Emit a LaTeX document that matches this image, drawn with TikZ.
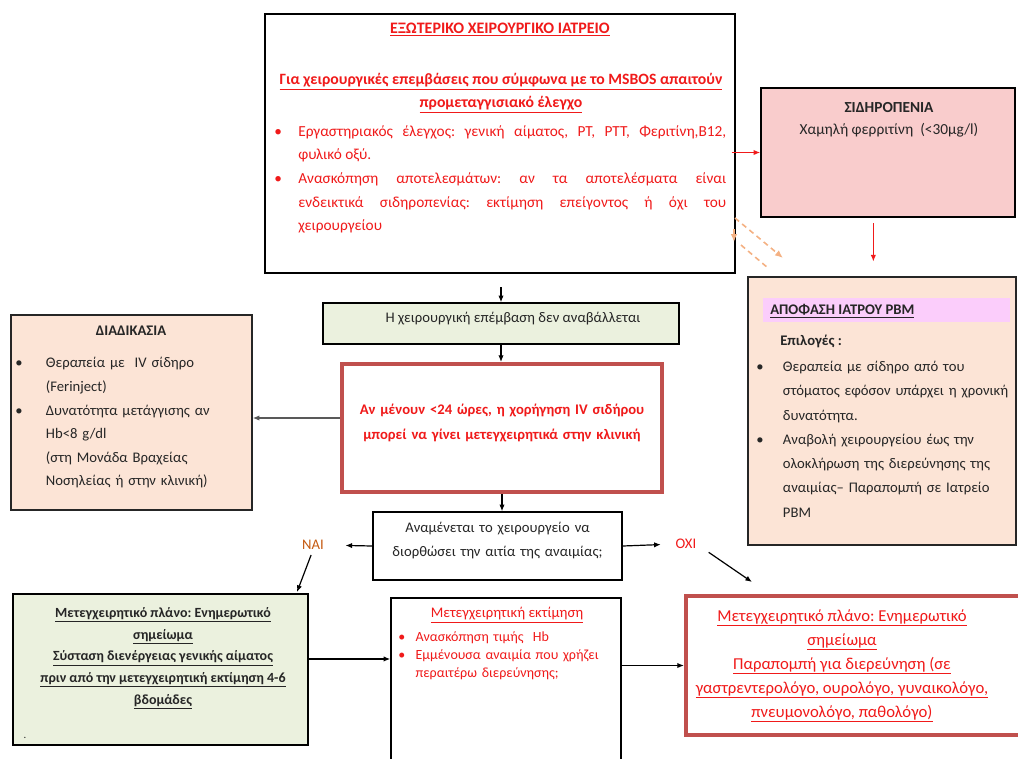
\documentclass[tikz,border=0pt]{standalone}
\usepackage{fontspec}
\setmainfont{Carlito}
\usepackage{enumitem}
\usetikzlibrary{arrows.meta,positioning,fit}
\definecolor{ink}{HTML}{262626}
\definecolor{alert}{HTML}{F01A1A}
\definecolor{brick}{HTML}{C0504D}
\definecolor{peach}{HTML}{FCE4D6}
\definecolor{rose}{HTML}{F9CCCC}
\definecolor{sage}{HTML}{EBF1DE}
\definecolor{lilac}{HTML}{FBCDFB}
\definecolor{apricot}{HTML}{F4B183}
\definecolor{rust}{HTML}{C55A11}
\hyphenpenalty=10000
\exhyphenpenalty=10000
\tolerance=10000
\frenchspacing
\setlist[itemize]{nosep,label=\textbullet,labelindent=0pt,labelwidth=6pt,labelsep=*,align=left}
\newcommand{\undl}[1]{\underline{#1}}
\tikzset{
  flow/.style={-{Latex[length=5pt,width=4pt]},line width=0.9pt,draw=black},
  redflow/.style={flow,draw=alert},
  hint/.style={-{Latex[length=6pt,width=5pt]},line width=1.2pt,dash pattern=on 4pt off 3pt,draw=apricot},
  panel/.style={draw=black,line width=1.1pt,inner sep=0pt},
  warn/.style={draw=brick,line width=3pt,fill=white,inner sep=0pt},
  txt/.style={inner sep=0pt,text=ink,font=\fontsize{11}{18}\selectfont},
  head/.style={txt,font=\bfseries\fontsize{11}{18}\selectfont},
}
\begin{document}
\begin{tikzpicture}[x=0.75pt,y=-0.75pt]
  \useasboundingbox (0,0) rectangle (1018,758);
  % boxes
  \node[panel,fill=white,fit={(265,14) (735,273)}] (clinic) {};
  \node[panel,fill=rose,fit={(761,88) (1015,217)}] (iron) {};
  \node[panel,draw=ink,fill=peach,fit={(748,277) (1016,545)}] (pbm) {};
  \node[fill=lilac,inner sep=0pt,fit={(763,298) (1010,322)}] (pbm-bar) {};
  \node[panel,draw=ink,fill=peach,fit={(11,315) (252,510)}] (proc) {};
  \node[panel,fill=sage,fit={(323,303) (679,344)},font=\fontsize{11}{18}\selectfont,text=ink]
    (keep) {\hspace*{18pt}Η χειρουργική επέμβαση δεν αναβάλλεται};
  \node[warn,fit={(342,364) (662,492)},align=center,text=alert,
    font=\bfseries\fontsize{11}{19}\selectfont] (delay)
    {Αν μένουν <24 ώρες, η χορήγηση IV σιδήρου\\μπορεί να γίνει μετεγχειρητικά στην κλινική};
  \node[panel,fill=white,fit={(373,512) (622,580)},align=center,text=ink,
    font=\fontsize{11}{18}\selectfont] (ask)
    {Αναμένεται το χειρουργείο να\\διορθώσει την αιτία της αναιμίας;};
  \node[panel,fill=sage,fit={(13,594) (308,745)}] (postplan) {};
  \node[panel,fill=white,fit={(391,598) (621,775)}] (review) {};
  \node[warn,fit={(686,596) (1026,735)}] (refer) {};

  % clinic text
  \node[head,text=alert,anchor=north,font=\bfseries\fontsize{12}{18}\selectfont] (clinic-title) at (500,23)
    {\undl{ΕΞΩΤΕΡΙΚΟ ΧΕΙΡΟΥΡΓΙΚΟ ΙΑΤΡΕΙΟ}};
  \node[head,text=alert,anchor=north,align=center,font=\bfseries\fontsize{11.8}{17.5}\selectfont]
    (clinic-sub) at (501,73)
    {\undl{Για χειρουργικές επεμβάσεις που σύμφωνα με το MSBOS απαιτούν}\\\undl{προμεταγγισιακό έλεγχο}};
  \node[txt,text=alert,anchor=north west,text width=339pt,align=justify,
    font=\fontsize{11.5}{17.8}\selectfont] (clinic-list) at (274,112)
    {\begin{itemize}[leftmargin=18pt]
     \item Εργαστηριακός έλεγχος: γενική αίματος, PT, PTT, Φεριτίνη,B12,\linebreak φυλικό οξύ.
     \item Ανασκόπηση αποτελεσμάτων: αν τα αποτελέσματα είναι\linebreak ενδεικτικά σιδηροπενίας: εκτίμηση επείγοντος ή όχι του\linebreak χειρουργείου
     \end{itemize}};

  % iron deficiency
  \node[txt,anchor=north,align=center,font=\fontsize{11.5}{17}\selectfont] (iron-t) at (889,102)
    {\textbf{ΣΙΔΗΡΟΠΕΝΙΑ}\\Χαμηλή φερριτίνη~~(<30μg/l)};

  % PBM decision
  \node[head,anchor=west] (pbm-head) at (770,311) {\undl{ΑΠΟΦΑΣΗ ΙΑΤΡΟΥ PBM}};
  \node[head,anchor=north west] (pbm-opt) at (780,335) {Επιλογές :};
  \node[txt,anchor=north west,text width=196pt,align=left,font=\fontsize{11}{18.2}\selectfont]
    (pbm-list) at (756,347)
    {\begin{itemize}[leftmargin=20pt]
     \item Θεραπεία με σίδηρο από του\newline στόματος εφόσον υπάρχει η χρονική\newline δυνατότητα.
     \item Αναβολή χειρουργείου έως την\newline ολοκλήρωση της διερεύνησης της\newline αναιμίας– Παραπομπή σε Ιατρείο\newline PBM
     \end{itemize}};

  % procedure
  \node[head,anchor=north] (proc-head) at (131,326) {ΔΙΑΔΙΚΑΣΙΑ};
  \node[txt,anchor=north west,text width=180pt,align=left,font=\fontsize{11}{17.7}\selectfont]
    (proc-list) at (15,344)
    {\begin{itemize}[leftmargin=23pt]
     \item Θεραπεία με~~IV σίδηρο\newline (Ferinject)
     \item Δυνατότητα μετάγγισης αν\newline Hb<8 g/dl\newline (στη Μονάδα Βραχείας\newline Νοσηλείας ή στην κλινική)
     \end{itemize}};

  % answers
  \node[txt,text=rust] (yes) at (313,545) {ΝΑΙ};
  \node[txt,text=alert] (no) at (686,544) {ΟΧΙ};
  \coordinate (nai-in) at (297,592);
  \coordinate (oxi-in) at (752,582);

  % postoperative plan
  \node[head,anchor=north,align=center,font=\bfseries\fontsize{10.5}{16.3}\selectfont]
    (postplan-t) at (163,607)
    {\undl{Μετεγχειρητικό πλάνο: Ενημερωτικό}\\\undl{σημείωμα}\\\undl{Σύσταση διενέργειας γενικής αίματος}\\
     \undl{πριν από την μετεγχειρητική εκτίμηση 4-6}\\\undl{βδομάδες}};
  \node[txt,font=\fontsize{8}{8}\selectfont] (postplan-dot) at (25,738) {.};

  % review
  \node[txt,text=alert,anchor=north,font=\fontsize{11}{13}\selectfont] (review-title) at (507,607)
    {\undl{Μετεγχειρητική εκτίμηση}};
  \node[txt,text=alert,anchor=north west,text width=165pt,align=left,font=\fontsize{10.5}{13.2}\selectfont]
    (review-list) at (398,624)
    {\begin{itemize}[leftmargin=13pt]
     \item Ανασκόπηση τιμής~~Hb
     \item Εμμένουσα αναιμία που χρήζει\newline περαιτέρω διερεύνησης;
     \end{itemize}};

  % referral
  \node[txt,text=alert,anchor=north,align=center,font=\fontsize{12.5}{18}\selectfont] (refer-t) at (842,609)
    {\undl{Μετεγχειρητικό πλάνο: Ενημερωτικό}\\\undl{σημείωμα}\\\undl{Παραπομπή για διερεύνηση (σε}\\
     \undl{γαστρεντερολόγο, ουρολόγο, γυναικολόγο,}\\\undl{πνευμονολόγο, παθολόγο)}};

  % connectors
  \draw[flow,shorten <=10pt] (clinic.south -| keep.north) -- (keep.north);
  \draw[flow] (keep.south) -- (keep.south |- delay.north);
  \draw[flow] (delay.south) -- (delay.south |- ask.north);
  \draw[flow,draw=black!65] ([yshift=7.5pt]delay.west) -- ([yshift=7.5pt]delay.west -| proc.east);
  \draw[flow,shorten >=16pt] (ask.west) -- (yes.east);
  \draw[flow,shorten <=4pt] (yes.south) -- (nai-in);
  \draw[flow,shorten >=11pt] (ask.east) -- (no.west);
  \draw[flow,shorten <=11pt] (no.east) -- (oxi-in);
  \draw[flow] ([yshift=7.9pt]postplan.east) -- ([yshift=7.9pt]postplan.east -| review.west);
  \draw[flow] (refer.west -| review.east) -- (refer.west);
  \draw[redflow,shorten <=-3pt] (iron.west -| clinic.east) -- (iron.west);
  \draw[redflow,shorten <=4pt,shorten >=11pt] ([xshift=-11pt]iron.south) -- ([xshift=-11pt]iron.south |- pbm.north);
  \coordinate (hint-a) at (735,218);
  \coordinate (hint-b) at (783,258);
  \coordinate (hint-c) at (741,245);
  \coordinate (hint-d) at (768,268);
  \coordinate (hint-e) at (734,229);
  \coordinate (hint-f) at (734,242);
  \draw[hint] (hint-a) -- (hint-b);
  \draw[hint,-] (hint-c) -- (hint-d);
  \draw[hint] (hint-e) -- (hint-f);
\end{tikzpicture}
\end{document}
